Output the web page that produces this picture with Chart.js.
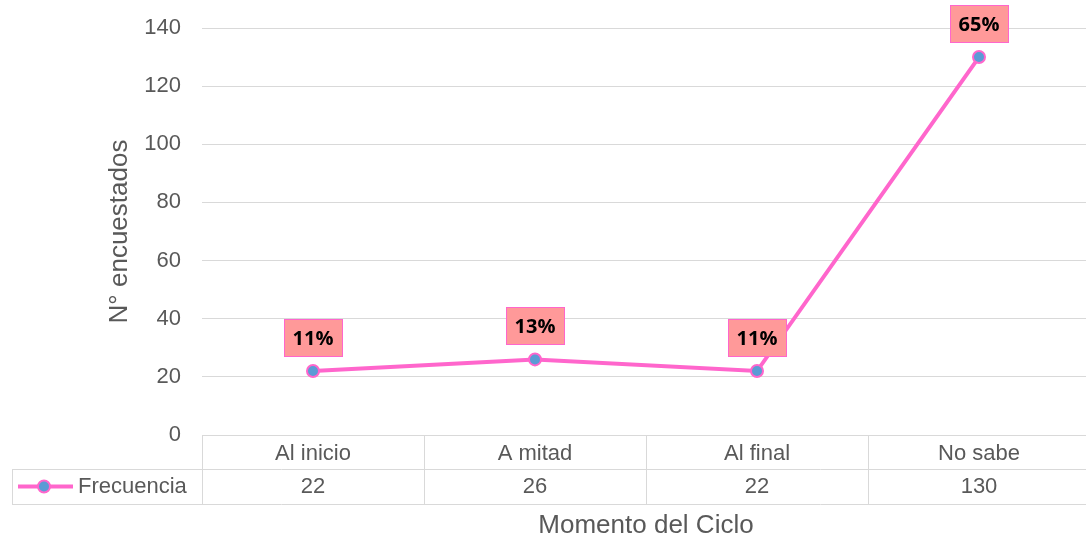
<!DOCTYPE html>
<html>
<head>
<meta charset="utf-8">
<title>Momento del Ciclo</title>
<script src="https://cdn.jsdelivr.net/npm/chart.js@4/dist/chart.umd.min.js"></script>
<style>
    html, body { margin: 0; padding: 0; background: #fff; overflow: hidden; }
    #wrap { width: 1092px; height: 540px; }
</style>
</head>
<body>
<div id="wrap"><canvas id="grafico" width="1092" height="540"></canvas></div>
<script>
// Datos
var categorias = ['Al inicio', 'A mitad', 'Al final', 'No sabe'];
var frecuencia = [22, 26, 22, 130];
var porcentajes = ['11%', '13%', '11%', '65%'];
var serieNombre = 'Frecuencia';
var yMin = 0, yMax = 140, yPaso = 20;

var ROSA = '#FF66CC';
var AZUL = '#5B9BD5';
var GRIS_TXT = '#595959';
var GRIS_LINEA = '#d9d9d9';
var FUENTE = '"Liberation Sans", Arial, sans-serif';

/**
 * Etiquetas de porcentaje sobre cada punto
 */
var etiquetasPlugin = {
    id: 'etiquetas',
    afterDatasetsDraw: function(chart) {
        var ctx = chart.ctx;
        var meta = chart.getDatasetMeta(0);
        ctx.save();
        ctx.font = 'bold 20px "Open Sans", sans-serif';
        ctx.textAlign = 'center';
        ctx.textBaseline = 'middle';
        meta.data.forEach(function(pt, i) {
            var w = 58, h = 37;
            var x0 = Math.round(pt.x - w / 2) + 0.5;
            var y0 = Math.round(pt.y - 15 - h) + 0.5;
            ctx.fillStyle = '#FF9999';
            ctx.fillRect(x0, y0, w, h);
            ctx.strokeStyle = ROSA;
            ctx.lineWidth = 1;
            ctx.strokeRect(x0, y0, w, h);
            ctx.fillStyle = '#000';
            ctx.fillText(porcentajes[i], pt.x, y0 + h / 2 + 1);
        });
        ctx.restore();
    }
};

/**
 * Tabla de datos bajo el eje X
 */
var tablaPlugin = {
    id: 'tabla',
    afterDraw: function(chart) {
        var ctx = chart.ctx;
        var x = chart.scales.x;
        var area = chart.chartArea;
        var colW = x.getPixelForValue(1) - x.getPixelForValue(0);
        var top = area.bottom;
        var fila1 = top + 34, fila2 = top + 69;
        var izq = 12;

        ctx.save();
        ctx.strokeStyle = GRIS_LINEA;
        ctx.lineWidth = 1;
        ctx.beginPath();
        ctx.moveTo(izq, fila1 + 0.5); ctx.lineTo(area.right, fila1 + 0.5);
        ctx.moveTo(izq, fila2 + 0.5); ctx.lineTo(area.right, fila2 + 0.5);
        ctx.moveTo(izq + 0.5, fila1); ctx.lineTo(izq + 0.5, fila2);
        for (var i = 0; i <= categorias.length; i++) {
            var bx = Math.round(x.getPixelForValue(0) - colW / 2 + i * colW) + 0.5;
            ctx.moveTo(bx, top); ctx.lineTo(bx, fila2);
        }
        ctx.stroke();

        // valores
        var cy = (fila1 + fila2) / 2;
        ctx.fillStyle = GRIS_TXT;
        ctx.font = '22px ' + FUENTE;
        ctx.textAlign = 'center';
        ctx.textBaseline = 'middle';
        frecuencia.forEach(function(v, i) {
            ctx.fillText(String(v), x.getPixelForValue(i), cy);
        });

        // leyenda de la serie
        ctx.strokeStyle = ROSA;
        ctx.lineWidth = 4;
        ctx.beginPath();
        ctx.moveTo(18, cy); ctx.lineTo(73, cy);
        ctx.stroke();
        ctx.beginPath();
        ctx.arc(44, cy, 6, 0, Math.PI * 2);
        ctx.fillStyle = AZUL;
        ctx.fill();
        ctx.lineWidth = 2;
        ctx.stroke();
        ctx.fillStyle = GRIS_TXT;
        ctx.textAlign = 'left';
        ctx.fillText(serieNombre, 78, cy);
        ctx.restore();
    }
};

var ctx = document.getElementById('grafico').getContext('2d');

new Chart(ctx, {
    type: 'line',
    data: {
        labels: categorias,
        datasets: [{
            label: serieNombre,
            data: frecuencia,
            borderColor: ROSA,
            borderWidth: 4,
            pointRadius: 6,
            pointHoverRadius: 6,
            pointBackgroundColor: AZUL,
            pointBorderColor: ROSA,
            pointBorderWidth: 2,
            tension: 0,
            fill: false
        }]
    },
    options: {
        responsive: false,
        animation: false,
        devicePixelRatio: 1,
        layout: {
            autoPadding: false,
            padding: { top: 28, right: 2, bottom: 0, left: 0 }
        },
        plugins: {
            legend: { display: false },
            tooltip: { enabled: false }
        },
        scales: {
            x: {
                offset: true,
                afterFit: function(scale) { scale.height = 105; },
                grid: { display: false },
                border: { display: false },
                ticks: {
                    padding: -2,
                    color: GRIS_TXT,
                    font: { family: FUENTE, size: 22 }
                },
                title: {
                    display: true,
                    text: 'Momento del Ciclo',
                    color: GRIS_TXT,
                    font: { family: FUENTE, size: 26 },
                    padding: { top: 0, bottom: -1 }
                }
            },
            y: {
                min: yMin,
                max: yMax,
                afterFit: function(scale) {
                    scale.width = 202;
                    // el padding de las marcas no debe empujar el área hacia abajo
                    scale.paddingTop = 0;
                    scale.paddingBottom = 0;
                },
                grid: {
                    color: GRIS_LINEA,
                    lineWidth: 1,
                    drawTicks: false
                },
                border: { display: false },
                ticks: {
                    stepSize: yPaso,
                    padding: 21,
                    color: GRIS_TXT,
                    font: { family: FUENTE, size: 22 }
                },
                title: {
                    display: true,
                    text: 'N° encuestados',
                    color: GRIS_TXT,
                    font: { family: FUENTE, size: 26 },
                    padding: { top: 104, bottom: 0 }
                }
            }
        }
    },
    plugins: [etiquetasPlugin, tablaPlugin]
});
</script>
</body>
</html>
